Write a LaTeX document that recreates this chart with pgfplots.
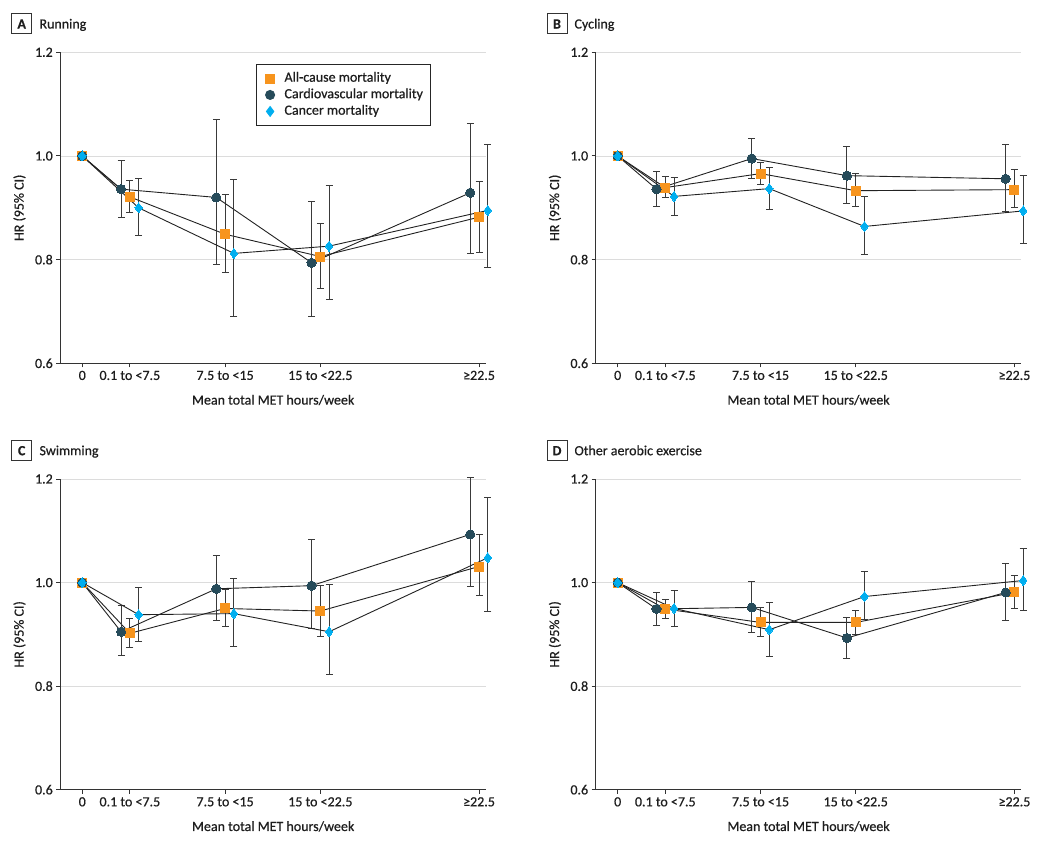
\documentclass[border=0pt]{standalone}
\usepackage{pgfplots}
\pgfplotsset{compat=1.18}
\usepackage{pgfplotstable}
\usepackage{fontspec}
\setmainfont{Carlito}[FakeBold=0.6]

\definecolor{orangec}{HTML}{F7941D}
\definecolor{darkc}{HTML}{264B5A}
\definecolor{cyanc}{HTML}{00AEEF}
\definecolor{linec}{HTML}{222222}
\definecolor{errc}{HTML}{3A3A3A}
\definecolor{gridc}{HTML}{DCDCDC}
\definecolor{axc}{HTML}{333333}
\definecolor{txtc}{HTML}{1E1E1E}

% x: category position, xc / xk: dodged positions of circle / diamond
% a = all-cause, c = cardiovascular, k = cancer (HR, lower, upper)
\pgfplotstableread{
x     xc    xk    a     alo   ahi   c     clo   chi   k     klo   khi
0     0     0     1     1     1     1     1     1     1     1     1
3.75  3.06  4.44  0.921 0.891 0.953 0.936 0.881 0.992 0.900 0.846 0.956
11.25 10.56 11.94 0.849 0.776 0.925 0.920 0.791 1.070 0.812 0.691 0.954
18.75 18.06 19.44 0.806 0.745 0.869 0.794 0.690 0.913 0.826 0.723 0.943
31.25 30.56 31.94 0.882 0.814 0.950 0.929 0.811 1.062 0.895 0.785 1.022
}\tabA
\pgfplotstableread{
x     xc    xk    a     alo   ahi   c     clo   chi   k     klo   khi
0     0     0     1     1     1     1     1     1     1     1     1
3.75  3.06  4.44  0.939 0.919 0.960 0.936 0.902 0.970 0.922 0.885 0.959
11.25 10.56 11.94 0.966 0.944 0.988 0.995 0.957 1.034 0.937 0.896 0.977
18.75 18.06 19.44 0.933 0.903 0.966 0.962 0.908 1.018 0.864 0.810 0.922
31.25 30.56 31.94 0.935 0.900 0.974 0.956 0.893 1.023 0.894 0.831 0.963
}\tabB
\pgfplotstableread{
x     xc    xk    a     alo   ahi   c     clo   chi   k     klo   khi
0     0     0     1     1     1     1     1     1     1     1     1
3.75  3.06  4.44  0.902 0.875 0.931 0.905 0.859 0.956 0.938 0.887 0.991
11.25 10.56 11.94 0.950 0.916 0.987 0.988 0.927 1.053 0.940 0.877 1.007
18.75 18.06 19.44 0.945 0.896 0.994 0.994 0.911 1.083 0.905 0.823 0.997
31.25 30.56 31.94 1.031 0.976 1.093 1.093 0.992 1.203 1.048 0.945 1.164
}\tabC
\pgfplotstableread{
x     xc    xk    a     alo   ahi   c     clo   chi   k     klo   khi
0     0     0     1     1     1     1     1     1     1     1     1
3.75  3.06  4.44  0.949 0.930 0.967 0.949 0.918 0.981 0.950 0.916 0.985
11.25 10.56 11.94 0.923 0.895 0.951 0.952 0.904 1.003 0.909 0.858 0.961
18.75 18.06 19.44 0.923 0.899 0.947 0.893 0.853 0.933 0.973 0.928 1.021
31.25 30.56 31.94 0.981 0.950 1.013 0.981 0.926 1.037 1.004 0.947 1.066
}\tabD

\newcommand{\fs}{\fontsize{14}{16}\selectfont}

\pgfplotsset{
  panel/.style={
    scale only axis, width=425.7pt, height=311pt, anchor=south west,
    xmin=-1.73, xmax=31.8, ymin=0.6, ymax=1.2,
    axis x line*=bottom, axis y line*=left,
    axis line style={axc, line width=1pt},
    xtick={0,3.75,11.25,18.75,31.25},
    xticklabels={0, 0.1 to <7.5, 7.5 to <15, 15 to <22.5, ≥22.5},
    ytick={0.6,0.8,1.0,1.2},
    yticklabel style={/pgf/number format/fixed, /pgf/number format/fixed zerofill, /pgf/number format/precision=1},
    /pgf/number format/assume math mode=true,
    ymajorgrids, grid style={gridc, line width=0.8pt},
    tick align=outside, major tick length=4pt, tick style={axc, line width=1pt},
    ticklabel style={font=\fs, text=txtc},
    xlabel={Mean total MET hours/week}, ylabel={HR (95\% CI)},
    every axis x label/.style={at={(axis description cs:0.5,0)}, yshift=-36.7pt, anchor=center, font=\fs, text=txtc},
    every axis y label/.style={at={(axis description cs:0,0.5)}, xshift=-40.8pt, rotate=90, anchor=center, font=\fs, text=txtc},
    clip=false,
  },
  ser/.style={linec, line width=0.9pt, forget plot,
    error bars/y dir=both, error bars/y explicit,
    error bars/error mark=-,
    error bars/error bar style={errc, line width=1pt},
    error bars/error mark options={rotate=90, errc, mark size=3.5pt, line width=1pt}},
  serA/.style={ser, mark=square*, mark size=4.5pt, mark options={fill=orangec, draw=orangec, line width=0pt}},
  serC/.style={ser, mark=*, mark size=4.6pt, mark options={fill=darkc, draw=darkc, line width=0pt}},
  serK/.style={ser, mark=diamond*, mark size=5pt, mark options={fill=cyanc, draw=cyanc, line width=0pt}},
}

\newcommand{\threeplots}[1]{%
  \addplot[serA] table[x=x, y=a, y error plus expr=\thisrow{ahi}-\thisrow{a}, y error minus expr=\thisrow{a}-\thisrow{alo}] {#1};
  \addplot[serC] table[x=xc, y=c, y error plus expr=\thisrow{chi}-\thisrow{c}, y error minus expr=\thisrow{c}-\thisrow{clo}] {#1};
  \addplot[serK] table[x=xk, y=k, y error plus expr=\thisrow{khi}-\thisrow{k}, y error minus expr=\thisrow{k}-\thisrow{klo}] {#1};
}

\begin{document}
\begin{tikzpicture}
\useasboundingbox (0pt,0pt) rectangle (1048pt,849pt);

% Panel A
\begin{axis}[panel, at={(60.3pt,485.7pt)},
  legend style={at={(rel axis cs:0.459,0.9614)}, anchor=north west, draw=black!85, line width=0.8pt,
    font=\fs, text=txtc, inner xsep=7pt, inner ysep=7pt, row sep=3pt,
    nodes={inner sep=0pt, text height=10pt, text depth=3.5pt}},
  legend cell align=left]
\threeplots{\tabA}
\addlegendimage{legend image code/.code={\path (-6.6pt,0pt) (14pt,0pt); \fill[orangec] (-4.5pt,-4.5pt) rectangle (4.5pt,4.5pt);}}
\addlegendentry{All-cause mortality}
\addlegendimage{legend image code/.code={\path (-6.6pt,0pt) (14pt,0pt); \fill[darkc] (0pt,0pt) circle (4.6pt);}}
\addlegendentry{Cardiovascular mortality}
\addlegendimage{legend image code/.code={\path (-6.6pt,0pt) (14pt,0pt); \fill[cyanc] (0pt,5pt) -- (3.75pt,0pt) -- (0pt,-5pt) -- (-3.75pt,0pt) -- cycle;}}
\addlegendentry{Cancer mortality}
\end{axis}

% Panel B
\begin{axis}[panel, at={(595.7pt,485.7pt)}]
\threeplots{\tabB}
\end{axis}

% Panel C
\begin{axis}[panel, at={(60.3pt,59.3pt)}, height=310.7pt]
\threeplots{\tabC}
\end{axis}

% Panel D
\begin{axis}[panel, at={(595.7pt,59.3pt)}, height=310.7pt]
\threeplots{\tabD}
\end{axis}

% Panel titles
\begin{scope}[every node/.style={text=txtc, font=\fs}]
\node[draw=axc, line width=1pt, minimum size=20pt, inner sep=0pt, font=\fs\bfseries] at (21.7pt,825pt) {A};
\node[anchor=base west, inner sep=0pt] at (39.3pt,820.5pt) {Running};
\node[draw=axc, line width=1pt, minimum size=20pt, inner sep=0pt, font=\fs\bfseries] at (557pt,825pt) {B};
\node[anchor=base west, inner sep=0pt] at (574.3pt,820.5pt) {Cycling};
\node[draw=axc, line width=1pt, minimum size=20pt, inner sep=0pt, font=\fs\bfseries] at (21.7pt,398.3pt) {C};
\node[anchor=base west, inner sep=0pt] at (39.3pt,393.8pt) {Swimming};
\node[draw=axc, line width=1pt, minimum size=20pt, inner sep=0pt, font=\fs\bfseries] at (557pt,398.3pt) {D};
\node[anchor=base west, inner sep=0pt] at (574.3pt,393.8pt) {Other aerobic exercise};
\end{scope}
\end{tikzpicture}
\end{document}
